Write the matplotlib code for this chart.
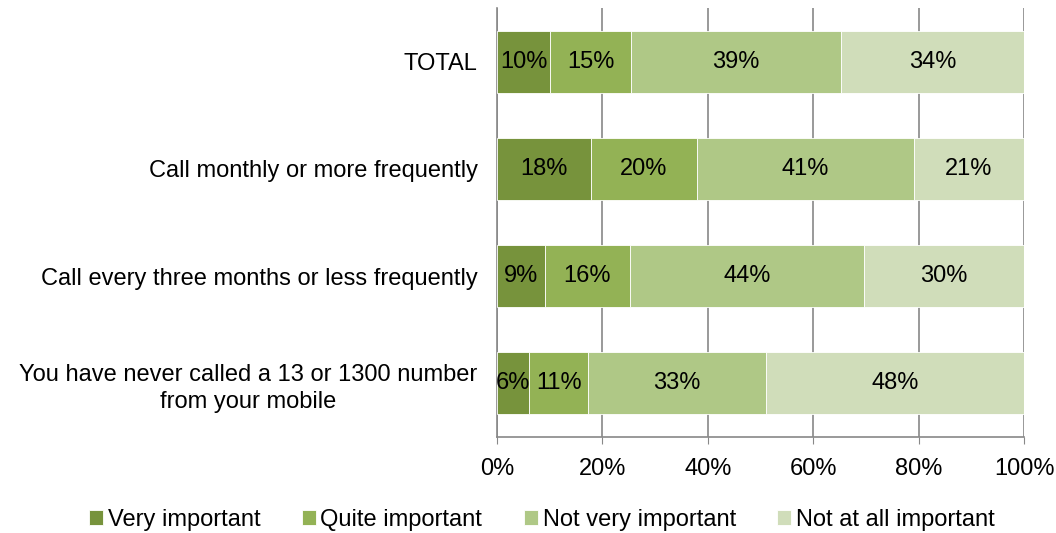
import matplotlib
matplotlib.use("Agg")
import matplotlib.pyplot as plt
import numpy as np

categories = ["TOTAL", "Call monthly or more frequently",
              "Call every three months or less frequently",
              "You have never called a 13 or 1300 number\nfrom your mobile"]
series_names = ["Very important", "Quite important", "Not very important", "Not at all important"]
very_important = [10.1, 17.8, 9.1, 6.1]
quite_important = [15.3, 20.2, 16.1, 11.2]
not_very_important = [39.9, 41.1, 44.4, 33.7]
not_at_all_important = [34.7, 20.9, 30.4, 49.0]
label_very = ["10%", "18%", "9%", "6%"]
label_quite = ["15%", "20%", "16%", "11%"]
label_notvery = ["39%", "41%", "44%", "33%"]
label_notatall = ["34%", "21%", "30%", "48%"]
xticks = [0, 20, 40, 60, 80, 100]
xtick_labels = ["0%", "20%", "40%", "60%", "80%", "100%"]

colors = ["#77933C", "#93B255", "#AFC886", "#D0DDBA"]
FS = 17

plt.rcParams['font.family'] = ['Liberation Sans', 'DejaVu Sans']
fig = plt.figure(figsize=(10.56, 5.33), dpi=100)
ax = fig.add_axes([497/1056, 1-437/533, 527/1056, 429/533])

y = np.arange(len(categories))
series = [very_important, quite_important, not_very_important, not_at_all_important]
labels = [label_very, label_quite, label_notvery, label_notatall]
left = np.zeros(len(categories))
for vals, labs, col, name in zip(series, labels, colors, series_names):
    vals = np.array(vals)
    bars = ax.barh(y, vals, left=left, height=0.58, color=col, label=name,
                   edgecolor="white", linewidth=0.6, zorder=3)
    ax.bar_label(bars, labels=labs, label_type="center", fontsize=FS, color="black")
    left += vals

ax.set_ylim(3.5, -0.5)
ax.set_xlim(0, 100)
ax.set_yticks(y)
ax.set_yticklabels(categories, fontsize=FS)
for t in ax.get_yticklabels():
    t.set_multialignment("center")
    t.set_linespacing(1.3)
ax.tick_params(axis="y", length=0, pad=14)
ax.set_xticks(xticks)
ax.set_xticklabels(xtick_labels, fontsize=FS)
ax.tick_params(axis="x", length=5, color="#888888", pad=10, direction="out")
ax.xaxis.grid(True, color="#888888", linewidth=1.2, zorder=0)
for s in ["top", "right"]:
    ax.spines[s].set_visible(False)
for s in ["left", "bottom"]:
    ax.spines[s].set_color("#888888")
    ax.spines[s].set_linewidth(1.2)

fig.legend(loc="center", bbox_to_anchor=(0.513, 0.025), ncol=4, frameon=False,
           fontsize=FS, handlelength=0.6, handleheight=0.6, handletextpad=0.2,
           columnspacing=1.75)

fig.savefig("out.png", dpi=100)
